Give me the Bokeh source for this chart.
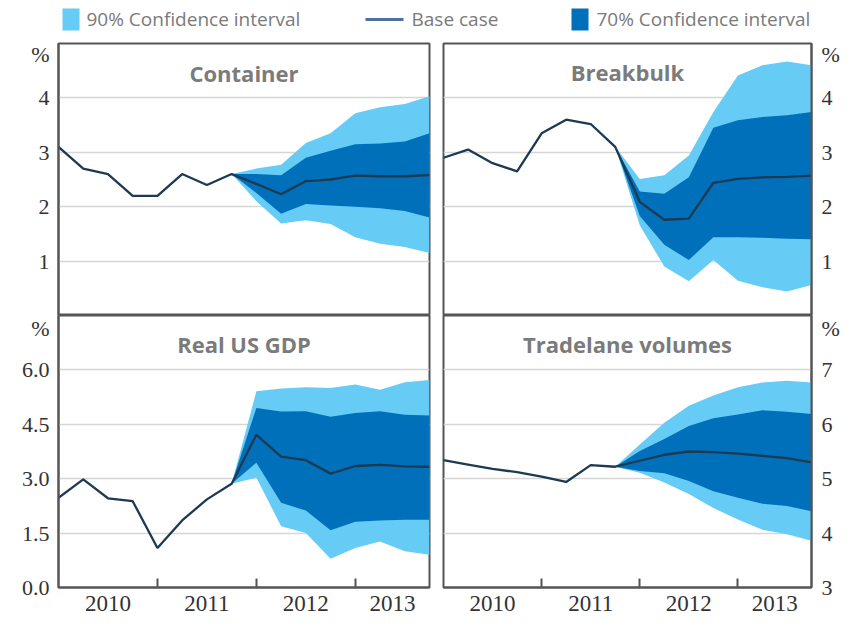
from bokeh.plotting import figure
from bokeh.layouts import column, row
from bokeh.models import Range1d, FixedTicker, PrintfTickFormatter, Label
from bokeh.core.properties import value
from bokeh.embed import file_html
from bokeh.resources import INLINE

# ---------------- data ----------------
quarter_idx = list(range(16))            # 2010Q1 .. 2013Q4
forecast_idx = list(range(7, 16))        # bands start at last actual (2011Q4)
year_labels = ["2010", "2011", "2012", "2013"]
year_label_pos = [2, 6, 10, 13.5]
year_tick_pos = [4, 8, 12]

container_base = [3.1, 2.7, 2.6, 2.2, 2.2, 2.6, 2.4, 2.6, 2.42, 2.23, 2.47, 2.5, 2.57, 2.56, 2.56, 2.58]
container_hi70 = [2.6, 2.6, 2.58, 2.9, 3.03, 3.15, 3.16, 3.2, 3.35]
container_lo70 = [2.6, 2.25, 1.87, 2.05, 2.02, 2.0, 1.97, 1.92, 1.8]
container_hi90 = [2.6, 2.7, 2.77, 3.17, 3.35, 3.72, 3.83, 3.89, 4.03]
container_lo90 = [2.6, 2.1, 1.69, 1.75, 1.68, 1.44, 1.32, 1.26, 1.15]

breakbulk_base = [2.9, 3.05, 2.8, 2.65, 3.35, 3.6, 3.52, 3.1, 2.09, 1.76, 1.78, 2.44, 2.51, 2.54, 2.55, 2.57]
breakbulk_hi70 = [3.1, 2.28, 2.24, 2.54, 3.45, 3.59, 3.65, 3.68, 3.74]
breakbulk_lo70 = [3.1, 1.83, 1.3, 1.02, 1.44, 1.44, 1.43, 1.41, 1.4]
breakbulk_hi90 = [3.1, 2.51, 2.58, 2.94, 3.74, 4.41, 4.6, 4.67, 4.6]
breakbulk_lo90 = [3.1, 1.66, 0.9, 0.63, 1.02, 0.64, 0.52, 0.44, 0.56]

gdp_base = [2.47, 2.98, 2.46, 2.38, 1.09, 1.85, 2.43, 2.86, 4.21, 3.61, 3.51, 3.14, 3.35, 3.38, 3.34, 3.33]
gdp_hi70 = [2.86, 4.95, 4.85, 4.86, 4.71, 4.81, 4.86, 4.76, 4.74]
gdp_lo70 = [2.86, 3.44, 2.34, 2.12, 1.58, 1.81, 1.85, 1.87, 1.87]
gdp_hi90 = [2.86, 5.41, 5.49, 5.52, 5.5, 5.6, 5.45, 5.66, 5.72]
gdp_lo90 = [2.86, 3.03, 1.69, 1.5, 0.79, 1.09, 1.27, 1.0, 0.9]

trade_base = [5.34, 5.26, 5.18, 5.12, 5.04, 4.94, 5.25, 5.22, 5.33, 5.44, 5.5, 5.49, 5.46, 5.42, 5.38, 5.3]
trade_hi70 = [5.22, 5.51, 5.73, 5.97, 6.11, 6.18, 6.26, 6.23, 6.19]
trade_lo70 = [5.22, 5.14, 5.1, 4.96, 4.77, 4.65, 4.54, 4.5, 4.4]
trade_hi90 = [5.22, 5.63, 6.03, 6.34, 6.53, 6.68, 6.77, 6.8, 6.77]
trade_lo90 = [5.22, 5.11, 4.93, 4.72, 4.46, 4.25, 4.06, 3.98, 3.86]

top_yticks = [1, 2, 3, 4]
gdp_yticks = [0, 1.5, 3, 4.5, 6]
trade_yticks = [3, 4, 5, 6, 7]

legend_labels = ["90% Confidence interval", "Base case", "70% Confidence interval"]

# ---------------- style ----------------
LIGHT = "#66ccf5"
DARK = "#0070ba"
LINE = "#1d3a52"
FRAME = "#555555"
GRID = "#d6d6d6"
TITLE_C = "#7b7b7b"
TICK_C = "#333333"

LEFT_W, RIGHT_W = 436, 418
TOP_H, BOT_H = 274, 312


def make_panel(title, base, lo90, hi90, lo70, hi70, yr, yticks, fmt, side, bottom, pct_y, title_y):
    kw = dict(
        width=LEFT_W if side == "left" else RIGHT_W,
        height=BOT_H if bottom else TOP_H,
        x_range=Range1d(0, 15), y_range=Range1d(*yr),
        output_backend="svg", toolbar_location=None,
        y_axis_location=side,
        x_axis_location="below" if bottom else None,
        min_border_left=58 if side == "left" else 7,
        min_border_right=7 if side == "left" else 43,
        min_border_top=0 if bottom else 2,
        min_border_bottom=40 if bottom else 0,
    )
    p = figure(**kw)
    p.outline_line_color = FRAME
    p.outline_line_width = 2
    p.background_fill_color = "white"
    p.border_fill_color = "white"

    p.varea(x=forecast_idx, y1=lo90, y2=hi90, fill_color=LIGHT)
    p.varea(x=forecast_idx, y1=lo70, y2=hi70, fill_color=DARK)
    p.line(x=quarter_idx, y=base, line_color=LINE, line_width=2.3)

    # axis ticks include the "%" unit marker; grid only at the value ticks
    ax = p.yaxis[0]
    ax.ticker = FixedTicker(ticks=yticks + [pct_y])
    ax.formatter = PrintfTickFormatter(format=fmt)
    ax.major_label_overrides = {pct_y: "%"}
    ax.axis_line_color = FRAME
    ax.axis_line_width = 2
    ax.major_tick_in = 0
    ax.major_tick_out = 0
    ax.minor_tick_in = 0
    ax.minor_tick_out = 0
    ax.major_label_standoff = 9 if side == "left" else 10
    ax.major_label_text_font = "Liberation Serif"
    ax.major_label_text_font_size = "22px"
    ax.major_label_text_color = TICK_C
    p.ygrid.ticker = FixedTicker(ticks=yticks)
    p.ygrid.grid_line_color = GRID
    p.ygrid.grid_line_width = 1.5
    p.xgrid.visible = False

    if bottom:
        xa = p.xaxis[0]
        xa.ticker = FixedTicker(ticks=year_label_pos, minor_ticks=year_tick_pos)
        xa.major_label_overrides = {pos: lab for pos, lab in zip(year_label_pos, year_labels)}
        xa.axis_line_color = FRAME
        xa.axis_line_width = 2
        xa.major_tick_in = 0
        xa.major_tick_out = 0
        xa.minor_tick_in = 9
        xa.minor_tick_out = 0
        xa.minor_tick_line_color = FRAME
        xa.minor_tick_line_width = 2
        xa.major_label_standoff = 8
        xa.major_label_text_font = "Liberation Serif"
        xa.major_label_text_font_size = "23px"
        xa.major_label_text_color = TICK_C

    t = Label(x=7.5, y=title_y, text=title, text_align="center", text_baseline="middle",
              text_font="Open Sans", text_font_style="bold", text_font_size="22px",
              text_color=TITLE_C)
    p.add_layout(t)
    return p


p_cont = make_panel("Container", container_base, container_lo90, container_hi90,
                    container_lo70, container_hi70, (0, 5), top_yticks, "%d", "left", False, 4.81, 4.46)
p_break = make_panel("Breakbulk", breakbulk_base, breakbulk_lo90, breakbulk_hi90,
                     breakbulk_lo70, breakbulk_hi70, (0, 5), top_yticks, "%d", "right", False, 4.81, 4.48)
p_gdp = make_panel("Real US GDP", gdp_base, gdp_lo90, gdp_hi90, gdp_lo70, gdp_hi70,
                   (0, 7.5), gdp_yticks, "%.1f", "left", True, 7.28, 6.72)
p_trade = make_panel("Tradelane volumes", trade_base, trade_lo90, trade_hi90, trade_lo70, trade_hi70,
                     (3, 8), trade_yticks, "%d", "right", True, 7.85, 7.47)

# ---------------- legend strip ----------------
leg = figure(width=LEFT_W + RIGHT_W, height=41, x_range=Range1d(0, 854), y_range=Range1d(0, 41),
             output_backend="svg", toolbar_location=None,
             x_axis_location=None, y_axis_location=None,
             min_border_left=0, min_border_right=0, min_border_top=0, min_border_bottom=0)
leg.outline_line_color = None
leg.grid.visible = False
leg.rect(x=[70.5], y=[22], width=17, height=22, fill_color=LIGHT, line_color=None)
leg.rect(x=[579.5], y=[22], width=17, height=22, fill_color=DARK, line_color=None)
leg.line(x=[365, 403], y=[22, 22], line_color="#4a72a8", line_width=3)
leg.text(x=[86, 411, 596], y=[23, 23, 23], text=legend_labels,
         text_font=value("Open Sans"), text_font_size="19px", text_color="#7a7a7a",
         text_baseline="middle", text_align="left")

layout = column(leg, row(p_cont, p_break), row(p_gdp, p_trade))

with open("out.html", "w") as f:
    f.write(file_html(layout, INLINE))
